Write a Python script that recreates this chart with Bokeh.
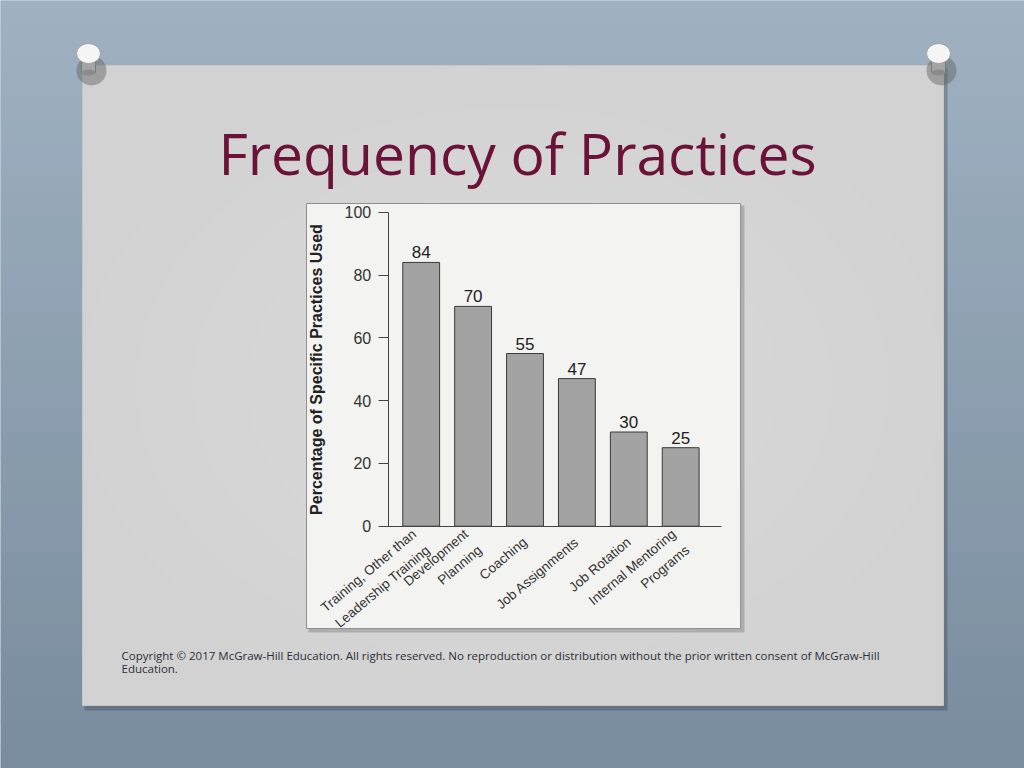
from bokeh.plotting import figure
from bokeh.models import Range1d, LinearAxis, FixedTicker
from bokeh.core.properties import value
from bokeh.embed import file_html
from bokeh.resources import INLINE

# ---- data ----
categories = [
    "Training, Other than\nLeadership Training",
    "Development\nPlanning",
    "Coaching",
    "Job Assignments",
    "Job Rotation",
    "Internal Mentoring\nPrograms",
]
percentages = [84, 70, 55, 47, 30, 25]
y_ticks = [0, 20, 40, 60, 80, 100]
title_text = "Frequency of Practices"
y_label = "Percentage of Specific Practices Used"
copyright_text = ("Copyright \u00a9 2017 McGraw-Hill Education. All rights reserved. No reproduction or "
                  "distribution without the prior written consent of McGraw-Hill\nEducation.")

# ---- layout (page pixel coordinates) ----
W, H = 1024, 768
BG = "#8d9fb1"
p = figure(width=W, height=H, x_range=Range1d(0, W), y_range=Range1d(H, 0),
           x_axis_type=None, y_axis_type=None, min_border=0, outline_line_color=None,
           toolbar_location=None, output_backend="svg",
           background_fill_color=BG, border_fill_color=BG)

# background gradient strips (decoration)
top_c, bot_c = (160, 178, 194), (122, 141, 158)
nb = 32
bh = H / nb
band_cols = []
for i in range(nb):
    t = i / (nb - 1)
    band_cols.append("#%02x%02x%02x" % tuple(int(a + (b - a) * t) for a, b in zip(top_c, bot_c)))
p.quad(left=[0] * nb, right=[W] * nb, top=[i * bh for i in range(nb)],
       bottom=[(i + 1) * bh + 1 for i in range(nb)], fill_color=band_cols, line_color=None)

# slide shadow and slide
p.quad(left=[84], right=[947], top=[68], bottom=[710], fill_color="#2a3540", fill_alpha=0.30, line_color=None)
p.quad(left=[82], right=[943], top=[65], bottom=[705], fill_color="#d2d2d2", line_color="#c6c6c6")
for k in range(6):
    rx, ry = 430 - k * 55, 320 - k * 42
    p.ellipse(x=[512], y=[385], width=[2 * rx], height=[2 * ry], fill_color="white",
              fill_alpha=0.035, line_color=None)

# chart panel
p.quad(left=[308], right=[744], top=[205], bottom=[632], fill_color="#555555", fill_alpha=0.30, line_color=None)
p.quad(left=[306], right=[740], top=[203], bottom=[628], fill_color="#f3f3f1", line_color="#8f8f8f")

# pushpins
for px in [88, 938]:
    p.ellipse(x=[px + 3], y=[70], width=[30], height=[30], fill_color="#5f5f5f", fill_alpha=0.45, line_color=None)
    p.quad(left=[px - 7], right=[px + 7], top=[54], bottom=[72], fill_color="#a4a4a4", line_color="#7a7a7a")
    p.ellipse(x=[px], y=[72], width=[14], height=[6], fill_color="#8a8a8a", line_color=None)
    p.ellipse(x=[px], y=[53], width=[24], height=[20], fill_color="#f5f5f5", line_color="#a0a0a0")

# title
p.text(x=[517], y=[152], text=[title_text], text_font=value("Open Sans"), text_font_size="57px",
       text_color="#6a1238", text_align="center", text_baseline="alphabetic")

# copyright
p.text(x=[121], y=[647], text=[copyright_text], text_font=value("Open Sans"), text_font_size="11.5px",
       text_color="#2e2e3a", text_align="left", text_baseline="top", text_line_height=0.9)

# ---- bar chart ranges: map into the chart panel ----
X0, DX = 420.7, 51.9    # pixel of first category centre, pixel pitch
Y0, DY = 525.7, 3.14    # pixel of value 0, pixels per unit
p.extra_x_ranges["bars"] = Range1d((0 - X0) / DX, (W - X0) / DX)
p.extra_y_ranges["val"] = Range1d((Y0 - H) / DY, (Y0 - 0) / DY)

xs = list(range(len(categories)))
p.vbar(x=xs, top=percentages, bottom=0, width=0.71, x_range_name="bars", y_range_name="val",
       fill_color="#a3a3a3", line_color="#3a3a3a", line_width=1)
p.text(x=xs, y=percentages, text=[str(v) for v in percentages], x_range_name="bars", y_range_name="val",
       text_font=value("Liberation Sans"), text_font_size="17px", text_color="#222222",
       text_align="center", text_baseline="bottom", y_offset=-4)

yaxis = LinearAxis(y_range_name="val", fixed_location=387.7, bounds=(0, 100),
                   ticker=FixedTicker(ticks=y_ticks), axis_label=y_label)
yaxis.axis_line_color = "#444444"
yaxis.major_tick_line_color = "#444444"
yaxis.major_tick_out = 10
yaxis.major_tick_in = 0
yaxis.minor_tick_line_color = None
yaxis.major_label_text_font = "Liberation Sans"
yaxis.major_label_text_font_size = "16px"
yaxis.major_label_text_color = "#333333"
yaxis.major_label_standoff = 7
yaxis.axis_label_text_font = "Liberation Sans"
yaxis.axis_label_text_font_size = "16px"
yaxis.axis_label_text_font_style = "bold"
yaxis.axis_label_text_color = "#222222"
yaxis.axis_label_standoff = 17
p.add_layout(yaxis, "left")

xaxis = LinearAxis(x_range_name="bars", fixed_location=Y0, bounds=(-0.73, 5.78),
                   ticker=FixedTicker(ticks=xs),
                   major_label_overrides={i: c for i, c in zip(xs, categories)})
xaxis.axis_line_color = "#444444"
xaxis.axis_line_width = 1.2
xaxis.major_tick_line_color = None
xaxis.minor_tick_line_color = None
xaxis.major_label_orientation = 0.7
xaxis.major_label_text_font = "Liberation Sans"
xaxis.major_label_text_font_size = "13.5px"
xaxis.major_label_text_color = "#333333"
xaxis.major_label_text_line_height = 1.4
xaxis.major_label_standoff = 8
p.add_layout(xaxis, "below")

open("out.html", "w").write(file_html(p, INLINE))
